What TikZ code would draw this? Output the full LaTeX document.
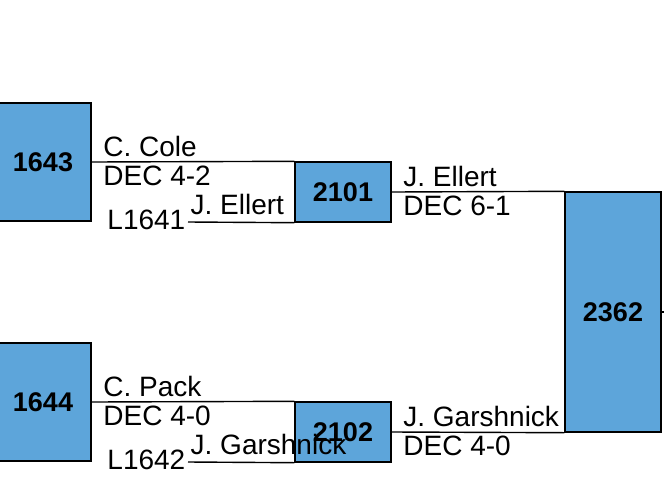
\documentclass[tikz,border=0pt]{standalone}
\usepackage{fontspec}
\setmainfont{Liberation Sans}
\usepackage{tikz}

\definecolor{seedblue}{RGB}{93,165,218}
\newcommand{\brfont}{\fontsize{28}{32}\selectfont}

\tikzset{
  game/.style={draw, fill=seedblue, minimum width=96pt, inner sep=0pt, font=\fontsize{27}{31}\selectfont\bfseries},
  who/.style={anchor=base west, inner sep=0pt, xshift=11pt, yshift=6pt},
  score/.style={anchor=base west, inner sep=0pt, xshift=11pt, yshift=-23pt},
  loser/.style={anchor=base west, inner sep=0pt, xshift=2pt, yshift=8pt},
  from/.style={anchor=base east, inner sep=0pt, xshift=-2pt, yshift=-7pt}
}

\begin{document}
\begin{tikzpicture}[x=1pt, y=-1pt, line width=1.4pt, font=\brfont]
    \useasboundingbox (0,0) rectangle (664,501);
    % games
    \node[game, minimum height=118pt] (g1643) at (43,162) {1643};
    \node[game, minimum height=118pt] (g1644) at (43,402) {1644};
    \node[game, minimum height=60pt] (g2101) at (343,192) {2101};
    \node[game, minimum height=60pt] (g2102) at (343,432) {2102};
    \node[game, minimum height=240pt] (g2362) at (613,312) {2362};
    \coordinate (l1641) at (188,222);
    \coordinate (l1642) at (188,462);
    \coordinate (next) at (672,312);
    % upper half
    \draw (g1643.east) -- (g2101.north west)
      node[pos=0,who] {C. Cole} node[pos=0,score] {DEC 4-2};
    \draw (l1641) -- (g2101.south west)
      node[pos=0,loser] {J. Ellert} node[pos=0,from] {L1641};
    \draw (g2101.east) -- (g2362.north west)
      node[pos=0,who] {J. Ellert} node[pos=0,score] {DEC 6-1};
    % lower half
    \draw (g1644.east) -- (g2102.north west)
      node[pos=0,who] {C. Pack} node[pos=0,score] {DEC 4-0};
    \draw (l1642) -- (g2102.south west)
      node[pos=0,loser] {J. Garshnick} node[pos=0,from] {L1642};
    \draw (g2102.east) -- (g2362.south west)
      node[pos=0,who] {J. Garshnick} node[pos=0,score] {DEC 4-0};
    \draw (g2362.east) -- (next);
  \end{tikzpicture}
\end{document}
